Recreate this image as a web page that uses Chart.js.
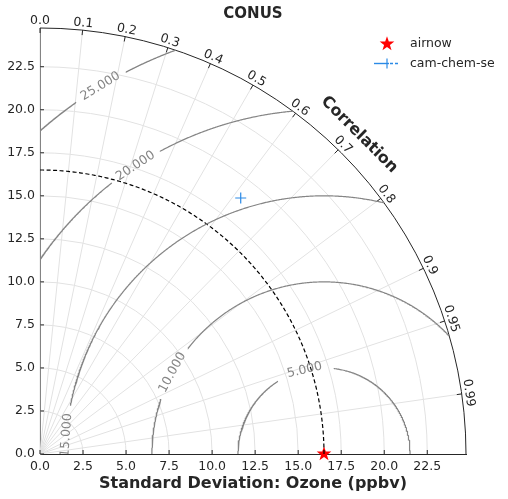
<!DOCTYPE html>
<html>
<head>
<meta charset="utf-8">
<script src="https://cdn.jsdelivr.net/npm/chart.js@4.4.0/dist/chart.umd.min.js"></script>
<style>
  body { margin: 0; background: #fff; }
  #wrap { width: 508px; height: 499px; position: relative; }
</style>
</head>
<body>
<div id="wrap"><canvas id="taylor"></canvas></div>
<script>
// --- data ---
const REF_NAME = 'airnow';
const REF_STD = 16.5;
const MODEL_NAMES = ['cam-chem-se'];
const MODEL_STD = [18.9];
const MODEL_CORR = [0.617];
const STD_TICKS = [0, 2.5, 5, 7.5, 10, 12.5, 15, 17.5, 20, 22.5];
const CORR_TICKS = [0, 0.1, 0.2, 0.3, 0.4, 0.5, 0.6, 0.7, 0.8, 0.9, 0.95, 0.99];
const CORR_LABELS = ['0.0', '0.1', '0.2', '0.3', '0.4', '0.5', '0.6', '0.7', '0.8', '0.9', '0.95', '0.99'];
const RMS_LEVELS = [5, 10, 15, 20, 25];
const STD_MAX = REF_STD * 1.5;

// label placement on the rms circles (deg, measured round the ref point)
const RMS_LABEL_ANGLE = { 5: 103, 10: 151.7, 15: 175.8, 20: 123.2, 25: 121.3 };
const LABEL_GAP_PX = 58;
const PX_PER_UNIT = 426 / STD_MAX;

const FONT = "'DejaVu Sans', sans-serif";
const INK = '#262626';
const MODEL_COLOR = '#2b8ae6';

function rmsContour(r) {
    const R = STD_MAX, s = REF_STD;
    let a0 = 0, a1 = Math.PI;
    if (s + r > R) {
        const xi = (R * R - r * r + s * s) / (2 * s);
        a0 = Math.atan2(Math.sqrt(Math.max(R * R - xi * xi, 0)), xi - s);
    }
    if (r > s) a1 = Math.atan2(Math.sqrt(r * r - s * s), -s);
    const mid = RMS_LABEL_ANGLE[r] * Math.PI / 180;
    const half = (LABEL_GAP_PX / 2) / (r * PX_PER_UNIT);
    const pts = [];
    const n = 500;
    for (let i = 0; i <= n; i++) {
        const a = a0 + (a1 - a0) * i / n;
        const x = s + r * Math.cos(a);
        pts.push({ x: x, y: Math.abs(a - mid) < half ? null : r * Math.sin(a) });
    }
    return pts;
}

function refArc() {
    const pts = [];
    for (let i = 0; i <= 300; i++) {
        const a = (Math.PI / 2) * i / 300;
        pts.push({ x: REF_STD * Math.cos(a), y: REF_STD * Math.sin(a) });
    }
    return pts;
}

function starImage(size, color) {
    const c = document.createElement('canvas');
    c.width = size; c.height = size;
    const g = c.getContext('2d');
    const ro = size / 2 - 0.3, ri = ro * 0.4;
    g.beginPath();
    for (let i = 0; i < 10; i++) {
        const rr = i % 2 ? ri : ro;
        const a = -Math.PI / 2 + i * Math.PI / 5;
        g.lineTo(size / 2 + rr * Math.cos(a), size / 2 + rr * Math.sin(a));
    }
    g.closePath();
    g.fillStyle = color;
    g.fill();
    return c;
}
const STAR = starImage(16, '#ff0000');

const datasets = [];
RMS_LEVELS.forEach(r => {
    datasets.push({
        label: 'rms ' + r,
        data: rmsContour(r),
        showLine: true, spanGaps: false,
        borderColor: '#858585', borderWidth: 1.2,
        pointRadius: 0
    });
});
datasets.push({
    label: 'ref std',
    data: refArc(),
    showLine: true,
    borderColor: '#000', borderWidth: 1.2, borderDash: [4, 2.5],
    pointRadius: 0
});
MODEL_NAMES.forEach((name, i) => {
    const c = MODEL_CORR[i], s = MODEL_STD[i];
    datasets.push({
        label: name,
        data: [{ x: s * c, y: s * Math.sqrt(1 - c * c) }],
        pointStyle: 'cross', pointRadius: 5.5,
        borderColor: MODEL_COLOR, borderWidth: 1.2
    });
});
datasets.push({
    label: REF_NAME,
    data: [{ x: REF_STD, y: 0 }],
    pointStyle: STAR, pointRadius: 8,
    clip: false
});

const taylorPlugin = {
    id: 'taylor',
    beforeDatasetsDraw(chart) {
        const { ctx, scales: { x, y } } = chart;
        const ox = x.getPixelForValue(0), oy = y.getPixelForValue(0);
        const k = x.getPixelForValue(1) - ox;
        const R = STD_MAX * k;
        ctx.save();
        // grid
        ctx.strokeStyle = '#e2e2e2';
        ctx.lineWidth = 1;
        STD_TICKS.forEach(s => {
            if (s <= 0) return;
            ctx.beginPath();
            ctx.arc(ox, oy, s * k, -Math.PI / 2, 0);
            ctx.stroke();
        });
        CORR_TICKS.forEach(c => {
            const a = Math.acos(c);
            ctx.beginPath();
            ctx.moveTo(ox, oy);
            ctx.lineTo(ox + R * Math.cos(a), oy - R * Math.sin(a));
            ctx.stroke();
        });
        // outer arc
        ctx.strokeStyle = INK;
        ctx.beginPath();
        ctx.arc(ox, oy, R, -Math.PI / 2, 0);
        ctx.stroke();
        // correlation ticks + labels
        ctx.font = '12.5px ' + FONT;
        ctx.fillStyle = INK;
        ctx.textAlign = 'center';
        ctx.textBaseline = 'middle';
        CORR_TICKS.forEach((c, i) => {
            const a = Math.acos(c);
            ctx.beginPath();
            ctx.moveTo(ox + R * Math.cos(a), oy - R * Math.sin(a));
            ctx.lineTo(ox + (R - 5) * Math.cos(a), oy - (R - 5) * Math.sin(a));
            ctx.stroke();
            const lr = R + 7;
            ctx.save();
            ctx.translate(ox + lr * Math.cos(a), oy - lr * Math.sin(a));
            ctx.rotate(Math.PI / 2 - a);
            ctx.fillText(CORR_LABELS[i], 0, 0);
            ctx.restore();
        });
        // inward axis ticks
        STD_TICKS.forEach(s => {
            const px = x.getPixelForValue(s), py = y.getPixelForValue(s);
            ctx.beginPath();
            ctx.moveTo(px, oy); ctx.lineTo(px, oy - 4);
            ctx.moveTo(ox, py); ctx.lineTo(ox + 4, py);
            ctx.stroke();
        });
        ctx.restore();
    },
    afterDatasetsDraw(chart) {
        const { ctx, chartArea, scales: { x, y } } = chart;
        const ox = x.getPixelForValue(0), oy = y.getPixelForValue(0);
        const k = x.getPixelForValue(1) - ox;
        const rx = x.getPixelForValue(REF_STD);
        ctx.save();
        ctx.beginPath();
        ctx.rect(chartArea.left, chartArea.top, chartArea.right - chartArea.left, chartArea.bottom - chartArea.top);
        ctx.clip();
        ctx.font = '12.5px ' + FONT;
        ctx.fillStyle = '#858585';
        ctx.textAlign = 'center';
        ctx.textBaseline = 'middle';
        RMS_LEVELS.forEach(r => {
            const a = RMS_LABEL_ANGLE[r] * Math.PI / 180;
            ctx.save();
            ctx.translate(rx + r * k * Math.cos(a), oy - r * k * Math.sin(a));
            ctx.rotate(-(a - Math.PI / 2));
            ctx.fillText(r.toFixed(3), 0, 0);
            ctx.restore();
        });
        ctx.restore();
    },
    afterDraw(chart) {
        const { ctx, chartArea, scales: { x, y } } = chart;
        const ox = x.getPixelForValue(0), oy = y.getPixelForValue(0);
        const k = x.getPixelForValue(1) - ox;
        const cx = (chartArea.left + chartArea.right) / 2;
        ctx.save();
        ctx.fillStyle = INK;
        ctx.textAlign = 'center';
        ctx.textBaseline = 'middle';
        ctx.font = 'bold 15px ' + FONT;
        ctx.fillText('CONUS', cx, 14);
        ctx.font = 'bold 16px ' + FONT;
        ctx.fillText('Standard Deviation: Ozone (ppbv)', cx, 484);
        const lr = STD_MAX * 1.06 * k, la = Math.PI / 4;
        ctx.save();
        ctx.translate(ox + lr * Math.cos(la), oy - lr * Math.sin(la));
        ctx.rotate(la);
        ctx.fillText('Correlation', 0, 0);
        ctx.restore();
        // legend
        ctx.drawImage(STAR, 387 - 8, 44 - 8);
        ctx.strokeStyle = MODEL_COLOR;
        ctx.lineWidth = 1.4;
        ctx.beginPath();
        ctx.moveTo(374, 63.5); ctx.lineTo(389, 63.5);
        ctx.stroke();
        ctx.setLineDash([3, 2]);
        ctx.beginPath();
        ctx.moveTo(390, 63.5); ctx.lineTo(400, 63.5);
        ctx.stroke();
        ctx.setLineDash([]);
        ctx.lineWidth = 1.2;
        ctx.beginPath();
        ctx.moveTo(387, 58.5); ctx.lineTo(387, 68.5);
        ctx.stroke();
        ctx.font = '12.5px ' + FONT;
        ctx.textAlign = 'left';
        ctx.fillText(REF_NAME, 410, 44);
        ctx.fillText(MODEL_NAMES[0], 410, 64);
        ctx.restore();
    }
};

const axisCommon = {
    type: 'linear',
    min: 0,
    max: STD_MAX,
    grid: { display: false, drawTicks: false },
    border: { display: true, color: INK, width: 1 },
    ticks: {
        stepSize: 2.5,
        includeBounds: false,
        color: INK,
        padding: 5,
        font: { family: FONT, size: 12.5 },
        callback: v => Number(v).toFixed(1)
    }
};

new Chart(document.getElementById('taylor'), {
    type: 'scatter',
    data: { datasets: datasets },
    options: {
        responsive: true,
        maintainAspectRatio: false,
        animation: false,
        events: [],
        layout: { padding: { top: 28, right: 42, left: 0, bottom: 0 } },
        scales: {
            x: Object.assign({}, axisCommon, {
                position: 'bottom',
                afterFit: s => { s.height = 45; }
            }),
            y: Object.assign({}, axisCommon, {
                position: 'left',
                afterFit: s => { s.width = 40; }
            })
        },
        plugins: {
            legend: { display: false },
            tooltip: { enabled: false },
            title: { display: false }
        }
    },
    plugins: [taylorPlugin]
});
</script>
</body>
</html>
